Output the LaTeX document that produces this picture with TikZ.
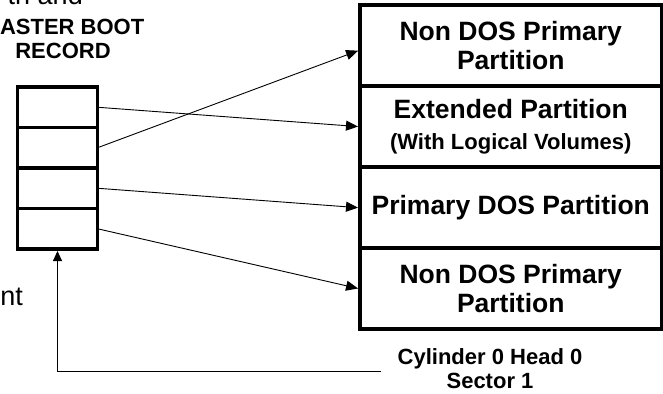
\documentclass[tikz,border=0pt]{standalone}
\usepackage{fontspec}
\setmainfont{Liberation Sans}
\usetikzlibrary{arrows.meta,positioning}

\begin{document}
\begin{tikzpicture}[x=1pt, y=-1pt,
  slot/.style={
    draw, line width=3.5pt, outer sep=0pt,
    minimum width=80pt, minimum height=40.5pt
  },
  part/.style={
    draw, line width=4pt, outer sep=0pt,
    minimum width=301.5pt, minimum height=81.1pt, align=center,
    font=\fontsize{26.5}{29}\selectfont\bfseries
  },
  note/.style={
    font=\fontsize{22}{24}\selectfont\bfseries, align=center, inner sep=0pt
  },
  plain/.style={
    font=\fontsize{27}{30}\selectfont, inner sep=0pt
  },
  link/.style={
    -{Triangle[length=12pt,width=10pt]}, line width=0.9pt,
    shorten <=1.75pt, shorten >=2pt
  }
]
\useasboundingbox (0,0) rectangle (663,393);
\clip (0,0) rectangle (663,393);

% Master boot record slots
\node[slot] (slot1) at (57.5,107.25) {};
\node[slot, below=0pt of slot1] (slot2) {};
\node[slot, below=0pt of slot2] (slot3) {};
\node[slot, below=0pt of slot3] (slot4) {};

% Partitions
\node[part] (nondos1) at (510.75,45.6) {Non DOS Primary\\Partition};
\node[part, below=0pt of nondos1] (ext)
  {Extended Partition\\[2pt]{\fontsize{22}{24}\selectfont (With Logical Volumes)}};
\node[part, below=0pt of ext] (prim) {Primary DOS Partition};
\node[part, below=0pt of prim] (nondos2) {Non DOS Primary\\Partition};

% Labels
\node[plain, anchor=base east] (toptext) at (83,5) {th and};
\node[note, anchor=north] (mbrlabel) at (63,18.5) {MASTER BOOT\\RECORD};
\node[plain, anchor=base east] (sidetext) at (23,305) {nt};
\node[note, anchor=north] (cyl) at (490,348) {Cylinder 0 Head 0\\Sector 1};
\coordinate (lead) at (381,371);

% Entry arrows
\draw[link] (slot1.east) -- (ext.west);
\draw[link] (slot2.east) -- ([yshift=-4.4pt]nondos1.west);
\draw[link] (slot3.east) -- (prim.west);
\draw[link] (slot4.east) -- (nondos2.west);

% Boot sector pointer
\draw[-{Triangle[length=10pt,width=9pt]}, line width=0.9pt]
  (lead) -| ([yshift=-2pt]slot4.south);

\end{tikzpicture}
\end{document}
